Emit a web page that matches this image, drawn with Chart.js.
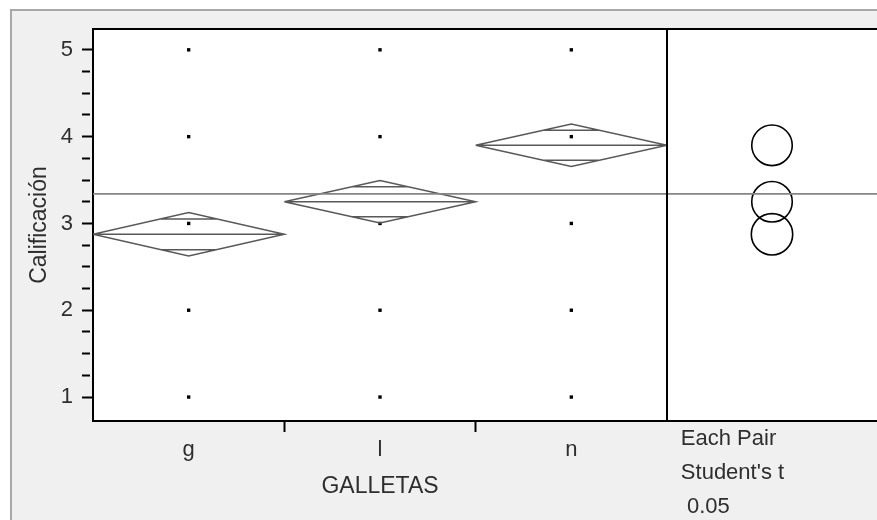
<!DOCTYPE html>
<html>
<head>
<meta charset="utf-8">
<script src="https://cdn.jsdelivr.net/npm/chart.js@4/dist/chart.umd.min.js"></script>
<style>
  body { margin: 0; background: #fff; overflow: hidden; }
  #frame { position: absolute; left: 10px; top: 9px; width: 867px; height: 511px; background: #f0f0f0;
           border-left: 2px solid #a8a8a8; border-top: 2px solid #a8a8a8; box-sizing: border-box; }
  #mainChart { position: absolute; left: 0; top: 0; z-index: 2; }
  #circleChart { position: absolute; left: 657px; top: 0; z-index: 1; }
</style>
</head>
<body>
<div id="frame"></div>
<canvas id="circleChart" width="220" height="520"></canvas>
<canvas id="mainChart" width="680" height="520"></canvas>
<script>
// data
const categories = ['g', 'l', 'n'];
const gRatings = [1, 2, 3, 4, 5];
const lRatings = [1, 2, 3, 4, 5];
const nRatings = [1, 2, 3, 4, 5];
const groupMeans = [2.875, 3.25, 3.9];
const ciHalf = [0.25, 0.245, 0.245];
const grandMean = 3.34;

const yTickValues = [1, 1.25, 1.5, 1.75, 2, 2.25, 2.5, 2.75, 3, 3.25, 3.5, 3.75, 4, 4.25, 4.5, 4.75, 5];
const xTickValues = [0.5, 1, 1.5, 2, 2.5];
const pairLabel = ['Each Pair', "Student's t", ' 0.05'];
const pairLabelPos = 0.066;

const yMin = 0.724, yMax = 5.24;
const FONT = 'Liberation Sans, Arial, sans-serif';
const TEXT = '#2e2e2e';

// white plot area plus the black edges the axes do not draw
const framePlugin = {
  id: 'frame',
  beforeDraw(chart, args, opts) {
    const { ctx, chartArea: a } = chart;
    ctx.save();
    ctx.fillStyle = '#fff';
    ctx.fillRect(a.left, a.top, a.right - a.left, a.bottom - a.top);
    ctx.restore();
  },
  afterDraw(chart, args, opts) {
    const { ctx, chartArea: a } = chart;
    ctx.save();
    ctx.strokeStyle = '#000';
    ctx.lineWidth = 2;
    ctx.beginPath();
    if (opts.edges.includes('top')) { ctx.moveTo(a.left - 1, a.top); ctx.lineTo(a.right, a.top); }
    if (opts.edges.includes('right')) { ctx.moveTo(a.right, a.top); ctx.lineTo(a.right, a.bottom); }
    ctx.stroke();
    ctx.restore();
  }
};

const dots = [gRatings, lRatings, nRatings].flatMap((vals, i) => vals.map(v => ({ x: i + 0.5, y: v })));

// means diamond, mean line and overlap marks of each group, split by gaps
const diamondSets = groupMeans.map((m, i) => {
  const h = ciHalf[i];
  const o = h / Math.SQRT2;
  const w = 0.5 * (1 - 1 / Math.SQRT2);
  const gap = { x: i + 0.5, y: null };
  return {
    type: 'scatter',
    showLine: true,
    spanGaps: false,
    borderColor: '#585858',
    borderWidth: 1.5,
    pointRadius: 0,
    data: [
      { x: i, y: m }, { x: i + 0.5, y: m + h }, { x: i + 1, y: m }, { x: i + 0.5, y: m - h }, { x: i, y: m },
      gap,
      { x: i, y: m }, { x: i + 1, y: m },
      gap,
      { x: i + 0.5 - w, y: m + o }, { x: i + 0.5 + w, y: m + o },
      gap,
      { x: i + 0.5 - w, y: m - o }, { x: i + 0.5 + w, y: m - o }
    ]
  };
});

new Chart(document.getElementById('mainChart'), {
  type: 'scatter',
  data: {
    datasets: [
      {
        data: [{ x: 0, y: grandMean }, { x: 3, y: grandMean }],
        showLine: true, borderColor: '#858585', borderWidth: 1.8, pointRadius: 0
      },
      ...diamondSets,
      {
        data: dots,
        pointStyle: 'rect', pointRadius: 2.4, borderWidth: 0,
        backgroundColor: '#000'
      }
    ]
  },
  options: {
    responsive: false,
    animation: false,
    devicePixelRatio: 1,
    layout: { padding: { left: 0, right: 13, top: 29, bottom: 0 } },
    plugins: {
      legend: { display: false },
      tooltip: { enabled: false },
      frame: { edges: ['top', 'right'] }
    },
    scales: {
      x: {
        type: 'linear', min: 0, max: 3,
        afterBuildTicks: s => { s.ticks = xTickValues.map(v => ({ value: v })); },
        afterFit: s => { s.height = 99; },
        border: { display: true, color: '#000', width: 2 },
        grid: {
          drawOnChartArea: false, tickLength: 11, tickWidth: 2,
          tickColor: c => (c.tick && Number.isInteger(c.tick.value)) ? '#000' : 'rgba(0,0,0,0)'
        },
        ticks: {
          autoSkip: false, maxRotation: 0, padding: 5, color: TEXT,
          font: { family: FONT, size: 22 },
          callback: v => (Number.isInteger(v) ? '' : categories[Math.floor(v)])
        },
        title: {
          display: true, text: 'GALLETAS', color: TEXT,
          font: { family: FONT, size: 23 }, padding: { top: 0, bottom: 20 }
        }
      },
      y: {
        type: 'linear', min: yMin, max: yMax,
        afterBuildTicks: s => { s.ticks = yTickValues.map(v => ({ value: v })); },
        afterFit: s => { s.width = 93; },
        border: { display: true, color: '#000', width: 2 },
        grid: {
          drawOnChartArea: false, tickLength: 11, tickWidth: 2, tickColor: '#000',
          tickBorderDash: c => (c.tick && Number.isInteger(c.tick.value)) ? [] : [8, 30]
        },
        ticks: {
          autoSkip: false, padding: 9, color: TEXT,
          font: { family: FONT, size: 22 },
          callback: v => (Number.isInteger(v) ? String(v) : '')
        },
        title: {
          display: true, text: 'Calificación', color: TEXT,
          font: { family: FONT, size: 23 }, padding: { top: 26, bottom: 0 }
        }
      }
    }
  },
  plugins: [framePlugin]
});

// comparison circles panel
new Chart(document.getElementById('circleChart'), {
  type: 'scatter',
  data: {
    datasets: [
      {
        data: [{ x: 0, y: grandMean }, { x: 1, y: grandMean }],
        showLine: true, borderColor: '#858585', borderWidth: 1.8, pointRadius: 0
      },
      {
        data: groupMeans.map(m => ({ x: 0.5, y: m })),
        backgroundColor: 'rgba(0,0,0,0)',
        borderColor: '#000',
        borderWidth: 1.6,
        pointRadius: c => {
          const y = c.chart.scales.y;
          const m = groupMeans[c.dataIndex];
          return y.getPixelForValue(m - ciHalf[c.dataIndex]) - y.getPixelForValue(m) - 1;
        }
      }
    ]
  },
  options: {
    responsive: false,
    animation: false,
    devicePixelRatio: 1,
    layout: { padding: { left: 10, right: 0, top: 29, bottom: 0 } },
    plugins: {
      legend: { display: false },
      tooltip: { enabled: false },
      frame: { edges: ['top'] }
    },
    scales: {
      x: {
        type: 'linear', min: 0, max: 1,
        afterBuildTicks: s => { s.ticks = [{ value: pairLabelPos }]; },
        afterFit: s => { s.height = 99; },
        border: { display: true, color: '#000', width: 2 },
        grid: { drawOnChartArea: false, drawTicks: false },
        ticks: {
          autoSkip: false, maxRotation: 0, padding: 1, align: 'start', color: TEXT,
          font: { family: FONT, size: 22, lineHeight: 1.55 },
          callback: () => pairLabel
        }
      },
      y: { type: 'linear', min: yMin, max: yMax, display: false }
    }
  },
  plugins: [framePlugin]
});
</script>
</body>
</html>
